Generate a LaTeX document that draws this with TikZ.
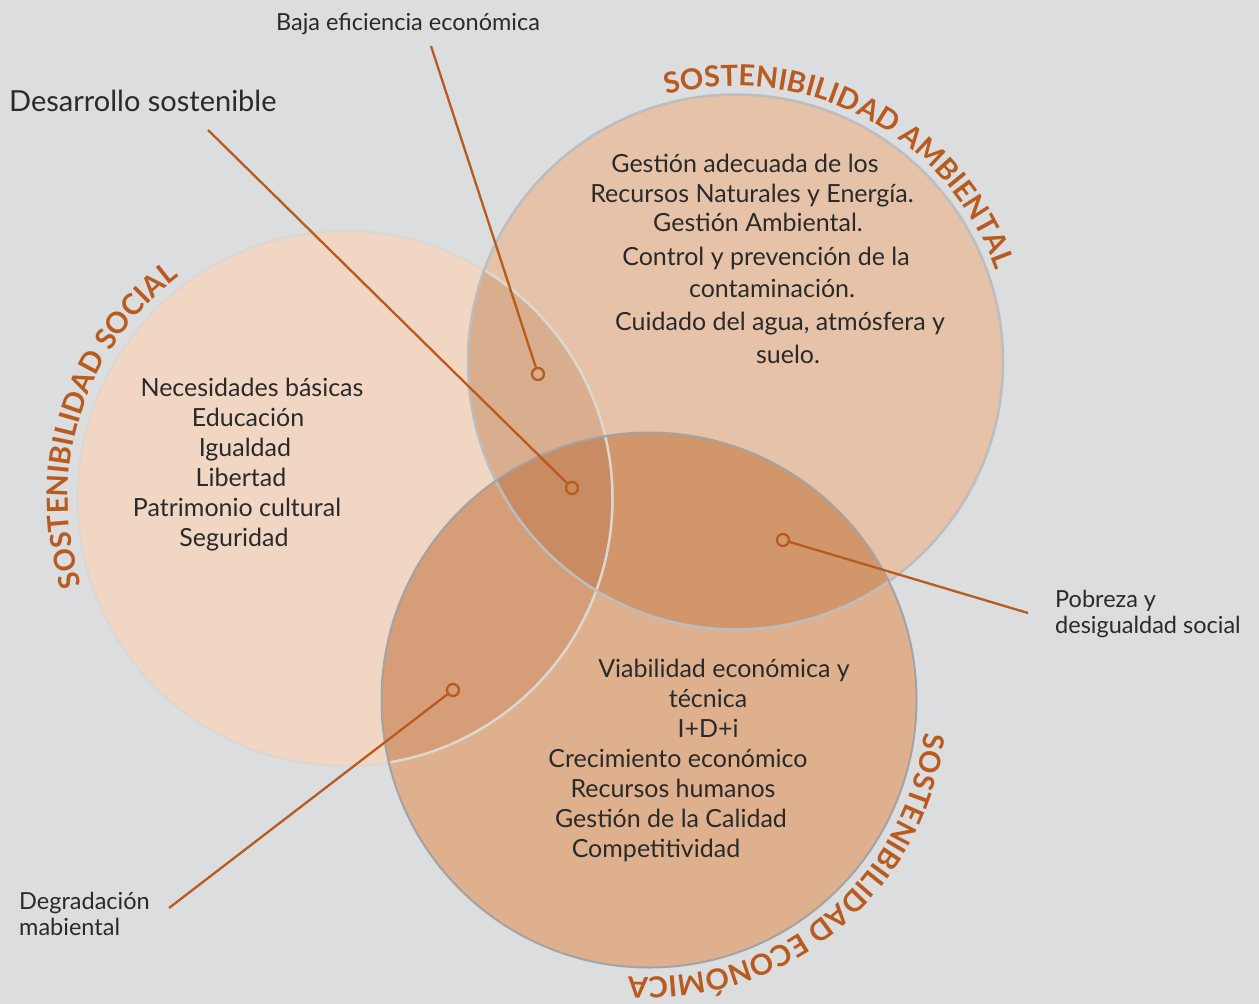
\documentclass[tikz,border=0pt]{standalone}
\usepackage{fontspec}
\setmainfont{Lato}
\usetikzlibrary{decorations.text}
\definecolor{bg}{HTML}{DCDDDF}
\definecolor{cS}{HTML}{F1D6C3}
\definecolor{cA}{HTML}{E6C3A8}
\definecolor{cE}{HTML}{DFB08E}
\definecolor{cSA}{HTML}{D9AE8F}
\definecolor{cSE}{HTML}{D59D78}
\definecolor{cAE}{HTML}{D2966B}
\definecolor{cSAE}{HTML}{C88B62}
\definecolor{acc}{HTML}{B95B1F}
\definecolor{ink}{HTML}{2A2A2A}
\definecolor{lnS}{HTML}{DDD7D2}
\definecolor{lnA}{HTML}{BDBDBF}
\definecolor{lnE}{HTML}{A3A3A5}
\newcommand\titlestyle{\bfseries\fontsize{29}{29}\selectfont\color{acc}}
\begin{document}
\begin{tikzpicture}[x=1pt,y=-1pt,
 body/.style={inner sep=0pt, text=ink, font=\fontsize{25}{30}\selectfont, text height=18pt, text depth=6pt},
 lbl/.style={inner sep=0pt, text=ink, font=\fontsize{23.5}{26}\selectfont},
 lead/.style={draw=acc, line width=2.3pt},
 dot/.style={circle, draw=acc, line width=2.3pt, minimum size=12pt, inner sep=0pt},
 ttl/.style={decorate, decoration={text along path, text align=center, text={|\titlestyle|#1}}},
]
\useasboundingbox (0,0) rectangle (1259,1004);
\fill[bg] (0,0) rectangle (1259,1004);
\def\R{267.5pt}
\coordinate (cs) at (345,498.5);
\coordinate (ca) at (735.5,362);
\coordinate (ce) at (649,700);
% fills
\fill[cS] (cs) circle[radius=\R];
\fill[cA] (ca) circle[radius=\R];
\begin{scope}
 \clip (cs) circle[radius=\R];
 \fill[cSA] (ca) circle[radius=\R];
\end{scope}
\fill[cE] (ce) circle[radius=\R];
\begin{scope}
 \clip (ce) circle[radius=\R];
 \fill[cSE] (cs) circle[radius=\R];
 \fill[cAE] (ca) circle[radius=\R];
 \clip (cs) circle[radius=\R];
 \fill[cSAE] (ca) circle[radius=\R];
\end{scope}
% outlines
\draw[lnS, line width=2.5pt] (cs) circle[radius=\R];
\draw[lnA, line width=2.5pt] (ca) circle[radius=\R];
\draw[lnE, line width=2pt] (ce) circle[radius=\R];
% titles
\path[ttl=SOSTENIBILIDAD SOCIAL] ([shift={(cs)}]197:277pt) arc[start angle=197, end angle=128, radius=277pt];
\path[ttl=SOSTENIBILIDAD AMBIENTAL] ([shift={(ca)}]104:276pt) arc[start angle=104, end angle=20, radius=276pt];
\path[ttl=SOSTENIBILIDAD ECONÓMICA] ([shift={(ce)}]0:277pt) arc[start angle=0, end angle=-101, radius=277pt];
% body texts
\foreach \x/\y/\t [count=\i] in {252/390/{Necesidades básicas}, 248/420/{Educación}, 245/450/{Igualdad}, 241/480/{Libertad}, 237/510/{Patrimonio cultural}, 234/540/{Seguridad}}
  \node[body] (s\i) at (\x,\y) {\t};
\foreach \x/\y/\t [count=\i] in {745/166/{Gestión adecuada de los}, 752/196/{Recursos Naturales y Energía.}, 758/225/{Gestión Ambiental.}, 766/259/{Control y prevención de la}, 772/291/{contaminación.}, 780/324/{Cuidado del agua, atmósfera y}, 788/357/{suelo.}}
  \node[body] (a\i) at (\x,\y) {\t};
\foreach \x/\y/\t [count=\i] in {724/671/{Viabilidad económica y}, 708/701/{técnica}, 708/731/{I+D+i}, 678/761/{Crecimiento económico}, 673/791/{Recursos humanos}, 671/821/{Gestión de la Calidad}, 656/851/{Competitividad}}
  \node[body] (e\i) at (\x,\y) {\t};
% labels
\node[lbl] (baja) at (408,24) {Baja eficiencia económica};
\node[inner sep=0pt, text=ink, font=\fontsize{29}{32}\selectfont, anchor=west] (des) at (9,101) {Desarrollo sostenible};
\node[lbl, anchor=west, align=left] (pob) at (1055,614) {Pobreza y\\desigualdad social};
\node[lbl, anchor=west, align=left] (deg) at (19,914) {Degradación\\mabiental};
% leaders
\coordinate (bl) at (431,46);
\coordinate (dl) at (208,130);
\coordinate (pl) at (1028,613);
\coordinate (gl) at (169,908);
\node[dot] (bd) at (538,374) {};
\node[dot] (dd) at (572,488) {};
\node[dot] (pd) at (783,540) {};
\node[dot] (gd) at (453,690) {};
\draw[lead] (bl) -- (bd);
\draw[lead] (dl) -- (dd);
\draw[lead] (pl) -- (pd);
\draw[lead] (gl) -- (gd);
\end{tikzpicture}
\end{document}
